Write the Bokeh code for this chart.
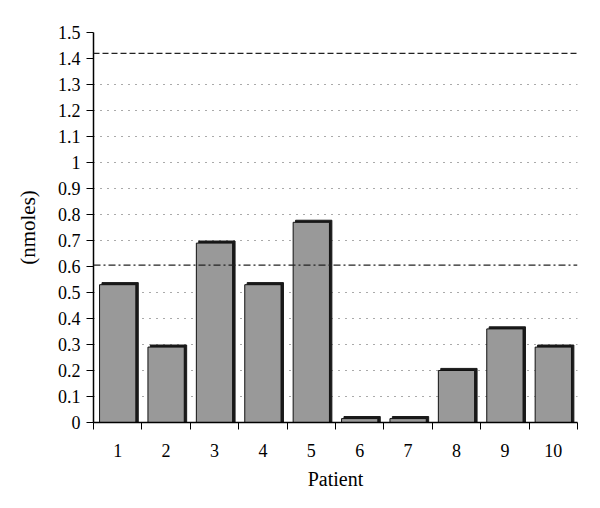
from bokeh.plotting import figure
from bokeh.models import Range1d, FixedTicker, Span, ColumnDataSource
from bokeh.transform import dodge
from bokeh.embed import file_html
from bokeh.resources import INLINE

patients = [1, 2, 3, 4, 5, 6, 7, 8, 9, 10]
nmoles = [0.53, 0.29, 0.69, 0.53, 0.77, 0.015, 0.015, 0.20, 0.36, 0.29]
ref_upper = 1.42
ref_lower = 0.605
y_ticks = [0, 0.1, 0.2, 0.3, 0.4, 0.5, 0.6, 0.7, 0.8, 0.9, 1.0, 1.1, 1.2, 1.3, 1.4, 1.5]
grid_levels = [0.1, 0.2, 0.3, 0.4, 0.5, 0.7, 0.8, 0.9, 1.0, 1.1, 1.2, 1.3]

FONT = "Liberation Serif"

p = figure(width=584, height=492, output_backend="svg", toolbar_location=None,
           x_range=Range1d(0.5, 10.5), y_range=Range1d(0, 1.5),
           min_border_left=93, min_border_right=7, min_border_top=32, min_border_bottom=68)
p.outline_line_color = None
p.xgrid.grid_line_color = None
p.ygrid.grid_line_color = None

# dotted grid lines
for g in grid_levels:
    p.add_layout(Span(location=g, dimension="width", line_color="#555555",
                      line_dash="1 6", line_width=1.2, level="underlay"))

src = ColumnDataSource(dict(x=patients, top=nmoles,
                            shadow_top=[v + 0.008 for v in nmoles]))

# shadow (3D effect)
p.vbar(x=dodge("x", 0.05, range=p.x_range), top="shadow_top", bottom=0, width=0.75,
       source=src, fill_color="#1a1a1a", line_color="#1a1a1a")
# bars
p.vbar(x="x", top="top", bottom=0, width=0.75, source=src,
       fill_color="#999999", line_color="#111111", line_width=1)

# reference lines
p.add_layout(Span(location=ref_upper, dimension="width", line_color="#222222",
                  line_dash="6 3", line_width=1.2))
p.add_layout(Span(location=ref_lower, dimension="width", line_color="#222222",
                  line_dash="7 3 2 3", line_width=1.2))

# axes
p.xaxis.ticker = FixedTicker(ticks=patients,
                             minor_ticks=[i + 0.5 for i in range(0, 11)])
p.xaxis.major_tick_out = 0
p.xaxis.major_tick_in = 0
p.xaxis.minor_tick_out = 7
p.xaxis.minor_tick_in = 0
p.xaxis.minor_tick_line_color = "black"
p.xaxis.axis_line_width = 1.5
p.xaxis.axis_line_color = "black"
p.xaxis.axis_label = "Patient"
p.xaxis.major_label_standoff = 14
p.xaxis.axis_label_standoff = 8

p.yaxis.ticker = FixedTicker(ticks=y_ticks, minor_ticks=[])
p.yaxis.major_label_overrides = {1.0: "1", 0: "0"}
p.yaxis.major_tick_out = 7
p.yaxis.major_tick_in = 0
p.yaxis.major_tick_line_color = "black"
p.yaxis.axis_line_width = 1.5
p.yaxis.axis_line_color = "black"
p.yaxis.axis_label = "(nmoles)"
p.yaxis.major_label_standoff = 6
p.yaxis.axis_label_standoff = 15

for ax in (p.xaxis, p.yaxis):
    ax.major_label_text_font = FONT
    ax.major_label_text_font_size = "18px"
    ax.major_label_text_color = "black"
    ax.axis_label_text_font = FONT
    ax.axis_label_text_font_style = "normal"
    ax.axis_label_text_color = "black"
p.xaxis.axis_label_text_font_size = "20px"
p.yaxis.axis_label_text_font_size = "21px"

open("out.html", "w").write(file_html(p, INLINE))
